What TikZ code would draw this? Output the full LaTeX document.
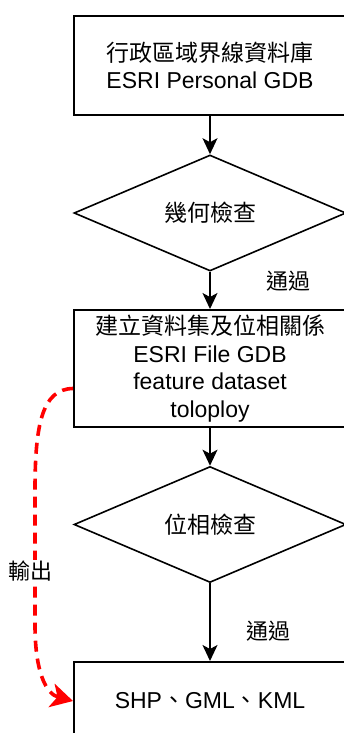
\documentclass[tikz,border=0pt]{standalone}
\usepackage{fontspec}
\setmainfont{Liberation Sans}
\newfontfamily\cjk{Noto Sans CJK TC}
\usetikzlibrary{shapes.geometric,arrows.meta}

\begin{document}
\begin{tikzpicture}
  [x=1pt,y=-1pt,
   box/.style={draw, line width=2pt, minimum width=272pt, align=center, inner sep=0pt,
     font=\fontsize{23}{27.5}\selectfont},
   check/.style={draw, diamond, line width=1.6pt, minimum width=272pt, minimum height=116pt,
     inner sep=0pt, font=\fontsize{23}{27.5}\selectfont},
   lbl/.style={font=\fontsize{22}{26}\selectfont\cjk, inner sep=1pt},
   flow/.style={line width=1.6pt, -{Stealth[length=16pt,width=15pt,inset=4pt]}},
   export/.style={red, line width=3.6pt, dash pattern=on 11pt off 7pt,
     -{Stealth[length=22pt,width=24pt,inset=6pt]}}]
  \useasboundingbox (0,0) rectangle (343,733);

  \node[box, minimum height=99pt] (db) at (210,65.5)
    {{\cjk 行政區域界線資料庫}\\ESRI Personal GDB};
  \node[check] (geo) at (210,213) {\cjk 幾何檢查};
  \node[box, minimum height=117pt] (fgdb) at (210,368.5)
    {{\cjk 建立資料集及位相關係}\\ESRI File GDB\\feature dataset\\tolopl{}oy};
  \node[check] (topo) at (210,524.5) {\cjk 位相檢查};
  \node[box, minimum height=78pt] (out) at (210,701)
    {SHP{\cjk 、}GML{\cjk 、}KML};

  \foreach \from/\to in {db/geo, geo/fgdb, fgdb/topo, topo/out}
    \draw[flow] (\from) -- (\to);

  \node[lbl] (pass1) at (288,281) {通過};
  \node[lbl] (pass2) at (268,631) {通過};

  % export path
  \draw[export] ([yshift=-20pt]fgdb.west) .. controls (42,389) and (35,425) .. (35,490)
    -- (35,625) .. controls (35,672) and (46,694) .. (out.west);
  \node[lbl, fill=white] (exp) at (31,571) {輸出};
\end{tikzpicture}
\end{document}
